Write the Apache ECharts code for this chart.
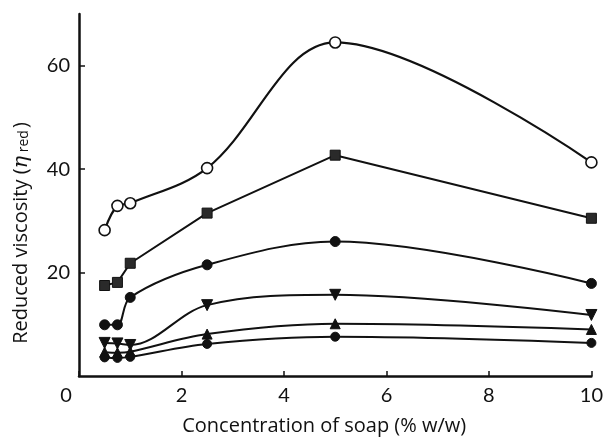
<!DOCTYPE html>
<html>
<head>
<meta charset="utf-8">
<script src="https://cdn.jsdelivr.net/npm/echarts@6/dist/echarts.min.js"></script>
<style>
  html, body { margin: 0; padding: 0; background: #fff; }
  #chart { width: 606px; height: 442px; }
</style>
</head>
<body>
<div id="chart"></div>
<script>
// Soap concentration (% w/w)
const concentration = [0.5, 0.75, 1.0, 2.5, 5, 10];

// Reduced viscosity for each sample series
const openCircle   = [28.2, 32.9, 33.4, 40.2, 64.5, 41.3];
const square       = [17.5, 18.1, 21.8, 31.5, 42.7, 30.5];
const filledCircle = [9.9, 9.9, 15.2, 21.5, 26.0, 17.9];
const downTriangle = [6.4, 6.3, 6.0, 13.7, 15.7, 11.8];
const upTriangle   = [4.6, 4.5, 4.7, 8.1, 10.1, 9.0];
const halfCircle   = [3.6, 3.5, 3.7, 6.2, 7.6, 6.4];

const xTicks = [0, 2, 4, 6, 8, 10];
const yTicks = [20, 40, 60];

const FONT = 'Lato';
const NAME_FONT = 'Open Sans';
const INK = '#111';

function pairs(ys) {
  return concentration.map((x, i) => [x, ys[i]]);
}

function makeSeries(ys, opts) {
  return Object.assign({
    type: 'line',
    data: pairs(ys),
    smooth: 0.35,
    lineStyle: { color: INK, width: 2 },
    itemStyle: { color: INK, borderColor: INK, borderWidth: 1 },
    symbolSize: 10,
    z: 3
  }, opts);
}

const chart = echarts.init(document.getElementById('chart'), null, { renderer: 'canvas' });

chart.setOption({
  animation: false,
  backgroundColor: '#ffffff',
  grid: { left: 79, right: 14, top: 14, bottom: 66 },
  xAxis: {
    type: 'value',
    min: 0,
    max: 10,
    interval: 2,
    name: 'Concentration of soap (% w/w)',
    nameLocation: 'middle',
    nameGap: 40,
    nameTextStyle: { fontFamily: NAME_FONT, fontSize: 20, color: INK, padding: [0, 22, 0, 0] },
    axisLine: { show: true, onZero: false, lineStyle: { color: INK, width: 2.5 } },
    axisTick: { show: true, inside: true, length: 5, lineStyle: { color: INK, width: 1.5 },
                customValues: xTicks },
    axisLabel: {
      margin: 10,
      fontFamily: FONT, fontSize: 20, color: INK,
      customValues: xTicks,
      formatter: function (v) { return v === 0 ? '{zero|0}' : String(v); },
      rich: { zero: { fontFamily: FONT, fontSize: 20, color: INK, padding: [0, 26, 0, 0] } }
    },
    splitLine: { show: false }
  },
  yAxis: {
    type: 'value',
    min: 0,
    max: 70,
    name: '{t|Reduced viscosity (}{eta|η}{sub| red}{t|)}',
    nameLocation: 'middle',
    nameRotate: 90,
    nameGap: 47,
    nameTextStyle: {
      padding: [0, 76, 0, 0],
      rich: {
        t:   { fontFamily: NAME_FONT, fontSize: 20, color: INK },
        eta: { fontFamily: 'DejaVu Serif', fontStyle: 'italic', fontSize: 21, color: INK },
        sub: { fontFamily: NAME_FONT, fontSize: 14, color: INK, padding: [6, 2, 0, 0] }
      }
    },
    axisLine: { show: true, onZero: false, lineStyle: { color: INK, width: 2.5 } },
    axisTick: { show: true, inside: true, length: 6, lineStyle: { color: INK, width: 1.5 },
                customValues: yTicks },
    axisLabel: {
      margin: 9,
      fontFamily: FONT, fontSize: 20, color: INK,
      customValues: yTicks
    },
    splitLine: { show: false }
  },
  series: [
    makeSeries(openCircle, {
      symbol: 'circle', symbolSize: 11,
      lineStyle: { color: INK, width: 2.2 },
      itemStyle: { color: '#ffffff', borderColor: INK, borderWidth: 1.6 },
      z: 4
    }),
    makeSeries(square, {
      smooth: false,
      symbol: 'rect', symbolSize: 10,
      itemStyle: { color: '#2a2a2a', borderColor: INK, borderWidth: 1 }
    }),
    makeSeries(filledCircle, { symbol: 'circle', symbolSize: 10 }),
    makeSeries(downTriangle, { symbol: 'triangle', symbolRotate: 180, symbolSize: 11 }),
    makeSeries(upTriangle, { symbol: 'triangle', symbolSize: 10 }),
    makeSeries(halfCircle, { symbol: 'circle', symbolSize: 9 })
  ]
});
</script>
</body>
</html>
